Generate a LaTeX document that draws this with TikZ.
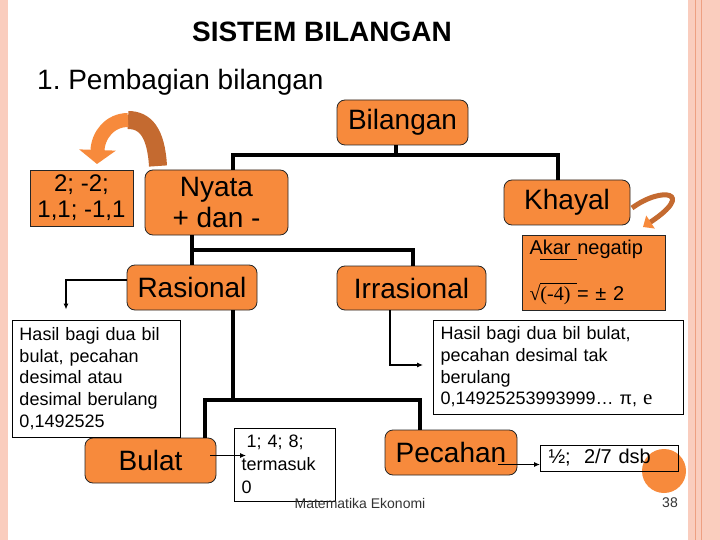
\documentclass[tikz,border=0pt]{standalone}
\usepackage{fontspec}
\setmainfont{Liberation Sans}
\newfontfamily\serifFont{Liberation Serif}
\usetikzlibrary{positioning,arrows.meta}
\definecolor{boxOrange}{RGB}{247,138,60}
\definecolor{arrowBrown}{RGB}{196,106,48}
\definecolor{borderPink}{RGB}{250,205,190}
\definecolor{borderLine}{RGB}{238,160,130}
\newcommand{\bigText}{\fontsize{28}{31}\selectfont}
\newcommand{\midText}{\fontsize{24}{26}\selectfont}
\newcommand{\noteText}{\fontsize{18}{21.75}\selectfont}
\tikzstyle{slide} = [x = 1pt, y = -1pt]
\tikzstyle{orangeBox} = [draw=black!85, fill=boxOrange, rounded corners=8pt, line width=.8pt, inner sep=0pt, align=center, font=\bigText]
\tikzstyle{orangeSquare} = [draw=black!85, fill=boxOrange, line width=.8pt, inner sep=0pt, align=center]
\tikzstyle{noteBox} = [draw=black, line width=.8pt, inner xsep=7pt, inner ysep=0pt, align=left, font=\noteText]
\tikzstyle{treeLine} = [line width=4pt]
\tikzstyle{thinArrow} = [line width=1.2pt, -{Latex[length=6pt,width=5pt]}]

\begin{document}
\begin{tikzpicture}[slide]
        \useasboundingbox (0,0) rectangle (720,540);
        \fill[white] (0,0) rectangle (720,540);
        % slide border
        \fill[borderPink] (0,0) rectangle (8,540);
        \fill[borderPink] (688,0) rectangle (720,540);
        \draw[borderLine, line width=1pt] (695,0) -- (695,540);
        \draw[borderLine, line width=1pt] (701,0) -- (701,540);

        \node (title) at (322,32) {\fontsize{28}{32}\selectfont\bfseries SISTEM BILANGAN};
        \node[anchor=base west, inner sep=0pt] (heading) at (37,90) {\bigText 1.\ Pembagian bilangan};

        % tree
        \node[orangeBox, minimum width=131pt, minimum height=45pt] (bilangan) at (402.5,122.5) {Bilangan};
        \node[orangeBox, minimum width=143pt, minimum height=65pt] (nyata) at (216.5,202.5) {Nyata\\+ dan -};
        \node[orangeBox, minimum width=126pt, minimum height=45pt] (khayal) at (567,202.5) {Khayal};
        \node[orangeBox, minimum width=130pt, minimum height=45pt] (rasional) at (192,287.5) {Rasional};
        \node[orangeBox, minimum width=149pt, minimum height=44pt] (irrasional) at (411.5,288) {Irrasional};
        \node[orangeBox, minimum width=131pt, minimum height=45pt] (bulat) at (150.5,460.5) {Bulat};
        \node[orangeBox, minimum width=132pt, minimum height=45pt] (pecahan) at (451,452.5) {Pecahan};

        \draw[treeLine] ([xshift=-6.5pt]bilangan.south) -- ++(0,10) coordinate (bilanganJoin);
        \draw[treeLine] ([xshift=16.5pt]nyata.north) |- (bilanganJoin) -| ([xshift=-9pt]khayal.north);
        \draw[treeLine] ([xshift=-24.5pt]nyata.south) -- (rasional.north);
        \draw[treeLine] ([xshift=-24.5pt]nyata.south) ++(0,15) -| ([xshift=1.5pt]irrasional.north);
        \draw[treeLine] ([xshift=41pt]rasional.south) -- ++(0,90) coordinate (rasionalJoin);
        \draw[treeLine] ([xshift=54.5pt]bulat.north) |- (rasionalJoin) -| ([xshift=-31pt]pecahan.north);

        % examples
        \node[orangeSquare, minimum width=103pt, minimum height=56pt, font=\midText] (contohNyata) at (81.5,198) {2; -2;\\1,1; -1,1};
        \node[orangeSquare, minimum height=75pt, text width=129pt, inner xsep=7pt, align=left, font=\fontsize{20}{46}\selectfont] (akar) at (594,272.5) {Akar negatip\\{\serifFont √(-4)} = ± 2};
        \draw[line width=.8pt] ([xshift=18pt,yshift=-25pt]akar.north west) -- ++(37,0);
        \draw[line width=.8pt] ([xshift=18pt,yshift=-49pt]akar.north west) -- ++(37,0);
        \node[noteBox, text width=154pt, minimum height=117pt] (hasilRasional) at (96.5,378.5) {Hasil bagi dua bil\\bulat, pecahan\\desimal atau\\desimal berulang\\0,1492525};
        \node[noteBox, text width=236pt, minimum height=94pt] (hasilIrrasional) at (558.5,367) {Hasil bagi dua bil bulat,\\pecahan desimal tak\\berulang\\0,14925253993999… π, {\serifFont\fontsize{21}{21}\selectfont e}};
        \node[noteBox, text width=87pt, minimum height=73pt, font=\fontsize{18}{23}\selectfont] (contohBulat) at (285,464.5) {\hspace*{5pt}1; 4; 8;\\termasuk\\0};
        \fill[boxOrange] (664,471) circle (22);
        \node[noteBox, text width=122pt, inner xsep=8pt, minimum height=26pt, font=\fontsize{20}{24}\selectfont] (contohPecahan) at (609.5,458) {½;\ \ 2/7 dsb};

        % arrows
        \draw[thinArrow] ([yshift=7.5pt]rasional.west) -| ([xshift=-30.5pt,yshift=10pt]hasilRasional.north);
        \draw[thinArrow] ([xshift=-21.5pt]irrasional.south) |- ([xshift=-10pt,yshift=2pt]hasilIrrasional.west);
        \draw[thinArrow] ([xshift=-6pt,yshift=5pt]bulat.east) -- ([xshift=12pt,yshift=9pt]contohBulat.west);
        \draw[thinArrow] ([xshift=-19pt,yshift=-12pt]pecahan.east) -- ([yshift=-6.5pt]contohPecahan.west);

        % curved arrows
        \draw[arrowBrown, line width=18pt] (158,166) .. controls (156,132) and (145,120) .. (128,120);
        \draw[boxOrange, line width=14pt, -{Triangle[length=14pt,width=36pt]}] (128,120) .. controls (110,120) and (98,135) .. (97,164);
        \draw[arrowBrown, line width=5pt, -{Triangle[length=9pt,width=15pt,fill=boxOrange,color=boxOrange]}] (632,208) .. controls (662,186) and (696,192) .. (643,227);

        \node[font=\fontsize{14}{16}\selectfont, text=black!80] (footer) at (360,503) {Matematika Ekonomi};
        \node[font=\fontsize{14}{16}\selectfont, text=black!80] (pageNumber) at (670,503) {38};
\end{tikzpicture}
\end{document}
